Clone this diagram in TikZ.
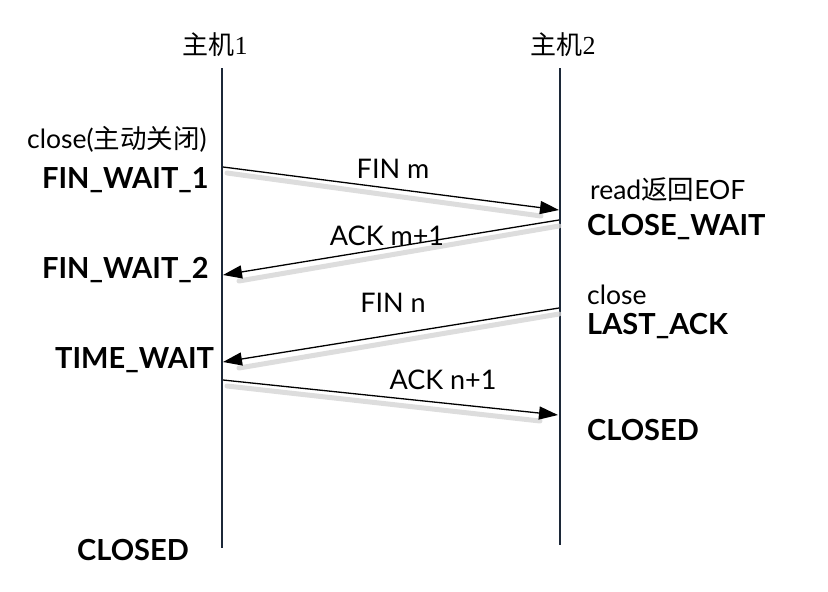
\documentclass[tikz,border=0pt]{standalone}
\usepackage{fontspec}
\setmainfont{Lato}
\newfontfamily\cjk{Noto Sans CJK SC}
\newfontfamily\serifnum{Liberation Serif}
\usetikzlibrary{arrows.meta}
\definecolor{lifeline}{HTML}{1C2838}
\definecolor{shadowgray}{HTML}{D4D4D4}
\tikzset{
  life/.style={draw=lifeline, line width=1.2pt},
  msg/.style={draw=black, line width=1.3pt, -{Triangle[length=19pt,width=13pt]}},
  msgshadow/.style={draw=shadowgray, line width=5pt, opacity=0.8, line cap=round},
  host/.style={font=\fontsize{26}{28}\selectfont, inner sep=0pt},
  state/.style={font=\fontsize{29}{31}\selectfont\bfseries, inner sep=0pt, anchor=west},
  note/.style={font=\fontsize{26.5}{29}\selectfont, inner sep=0pt, anchor=west},
  lbl/.style={font=\fontsize{27}{29}\selectfont, inner sep=0pt},
}
\begin{document}
\begin{tikzpicture}[x=1pt,y=-1pt]
\useasboundingbox (0,0) rectangle (828,592);
% lifelines
\coordinate (h1top) at (222,68);
\coordinate (h1bot) at (222,548);
\coordinate (h2top) at (560,68);
\coordinate (h2bot) at (560,545);
\draw[life] (h1top) -- (h1bot);
\draw[life] (h2top) -- (h2bot);
% host labels
\node[host] (host1) at (215,45) {{\cjk 主机}{\serifnum 1}};
\node[host] (host2) at (563,45) {{\cjk 主机}{\serifnum 2}};
% message endpoints
\coordinate (a1) at (223,167);
\coordinate (b1) at (559,210);
\coordinate (b2) at (559,220);
\coordinate (a2) at (223,275);
\coordinate (b3) at (559,308);
\coordinate (a3) at (223,362);
\coordinate (a4) at (223,380);
\coordinate (b4) at (558,415);
% shadows
\draw[msgshadow] ([shift={(4,6)}]a1) -- ([shift={(-18,6)}]b1);
\draw[msgshadow] ([shift={(0,6)}]b2) -- ([shift={(16,6)}]a2);
\draw[msgshadow] ([shift={(0,6)}]b3) -- ([shift={(16,6)}]a3);
\draw[msgshadow] ([shift={(4,6)}]a4) -- ([shift={(-18,6)}]b4);
% messages
\draw[msg] (a1) -- (b1);
\draw[msg] (b2) -- (a2);
\draw[msg] (b3) -- (a3);
\draw[msg] (a4) -- (b4);
% message labels
\node[lbl] (m1) at (393,169) {FIN m};
\node[lbl] (m2) at (387,236) {ACK m+1};
\node[lbl] (m3) at (393,303) {FIN n};
\node[lbl] (m4) at (443,380) {ACK n+1};
% host 1 states
\node[note] (c1) at (27,139) {close({\cjk 主动关闭})};
\node[state] (s1) at (42,180) {FIN\_WAIT\_1};
\node[state] (s2) at (42,270) {FIN\_WAIT\_2};
\node[state] (s3) at (55,360) {TIME\_WAIT};
\node[state] (s4) at (77,550) {CLOSED};
% host 2 states
\node[note] (c2) at (590,190) {read{\cjk 返回}EOF};
\node[state] (s5) at (587,227) {CLOSE\_WAIT};
\node[note] (c3) at (587,295) {close};
\node[state] (s6) at (587,326) {LAST\_ACK};
\node[state] (s7) at (587,430) {CLOSED};
\end{tikzpicture}
\end{document}
